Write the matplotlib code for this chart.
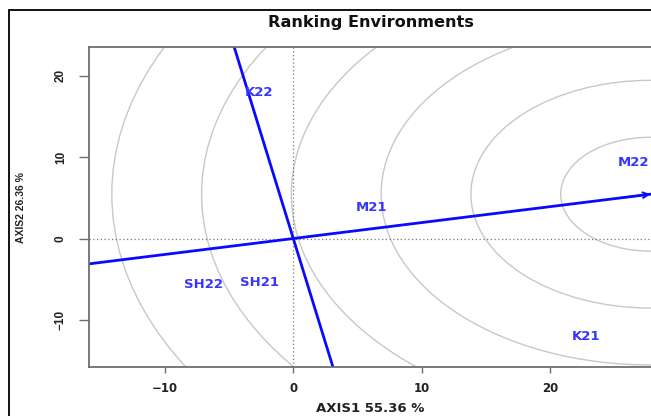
import matplotlib
matplotlib.use("Agg")
import matplotlib.pyplot as plt
from matplotlib.patches import Circle, Rectangle

plt.rcParams['font.family'] = ['DejaVu Sans']

# environment scores (axis1, axis2)
envs = ["K22", "M21", "M22", "SH22", "SH21", "K21"]
env_x = [-2.7, 6.1, 26.5, -7.0, -2.65, 22.8]
env_y = [17.9, 3.8, 9.4, -5.6, -5.4, -12.1]

# average environment coordinate (arrow tip) and ranking circles
aec = (27.85, 5.45)
radii = [7, 14, 21, 28, 35, 42]

ticks = [-10, 0, 10, 20]
tick_labels = ["\u221210", "0", "10", "20"]

blue = "#0a0aff"
txtblue = "#3535ff"
grey = "#6e6e6e"

fig = plt.figure(figsize=(6.51, 4.16), dpi=100)
ax = fig.add_axes([89/651, 49/416, 563/651, 320/416])

# ranking circles centred on the AEC point
for r in radii:
    ax.add_patch(Circle(aec, r, fill=False, ec="#c8c8c8", lw=1.0))

# dotted zero lines
ax.axhline(0, color="#777777", ls=(0, (1, 2)), lw=0.9)
ax.axvline(0, color="#777777", ls=(0, (1, 2)), lw=0.9)

# average environment axis and its perpendicular
ax.plot([-20, aec[0]], [-20 * aec[1] / aec[0], aec[1]], color=blue, lw=2.0)
ax.annotate("", xy=aec, xytext=(aec[0] - 2.5, aec[1] - 2.5 * aec[1] / aec[0]),
            arrowprops=dict(arrowstyle="->", color=blue, lw=1.4,
                            mutation_scale=10, shrinkA=0, shrinkB=0),
            annotation_clip=False)
ax.axline((0, 0), (-aec[1], aec[0]), color=blue, lw=2.0)

for name, x, y in zip(envs, env_x, env_y):
    ax.text(x, y, name, color=txtblue, fontsize=9.5, fontweight="bold",
            ha="center", va="center")

ax.set_xlim(-15.93, 27.97)
ax.set_ylim(-15.8, 23.55)
ax.set_xticks(ticks)
ax.set_yticks(ticks)
ax.set_xticklabels(tick_labels, fontsize=8.5, fontweight="bold")
ax.set_yticklabels(tick_labels, rotation=90, va="center", fontsize=8.5,
                   fontweight="bold", family="Liberation Sans")
ax.tick_params(axis="x", length=4.5, width=1, color=grey,
               labelcolor="#222222", pad=6.5)
ax.tick_params(axis="y", length=7, width=1, color=grey,
               labelcolor="#222222", pad=9)
for s in ax.spines.values():
    s.set_color(grey)
    s.set_linewidth(1.3)

fig.text(370/651, 1 - 409/416, "AXIS1 55.36 %", ha="center", va="center",
         fontsize=9.5, fontweight="bold", color="#222222")
fig.text(21/651, 1 - 207.5/416, "AXIS2 26.36 %", ha="center", va="center",
         rotation=90, fontsize=7.5, fontweight="bold", color="#222222",
         family="Liberation Sans")
fig.text(371/651, 1 - 26.5/416, "Ranking Environments", ha="center",
         va="baseline", fontsize=11.6, fontweight="bold", color="#111111")

# outer frame of the original device
fig.patches.append(Rectangle((9/651, -0.1), 1.2, 1 - 10/416 + 0.1,
                             transform=fig.transFigure, fill=False,
                             ec="black", lw=1.3))

fig.savefig("out.png", dpi=100)
